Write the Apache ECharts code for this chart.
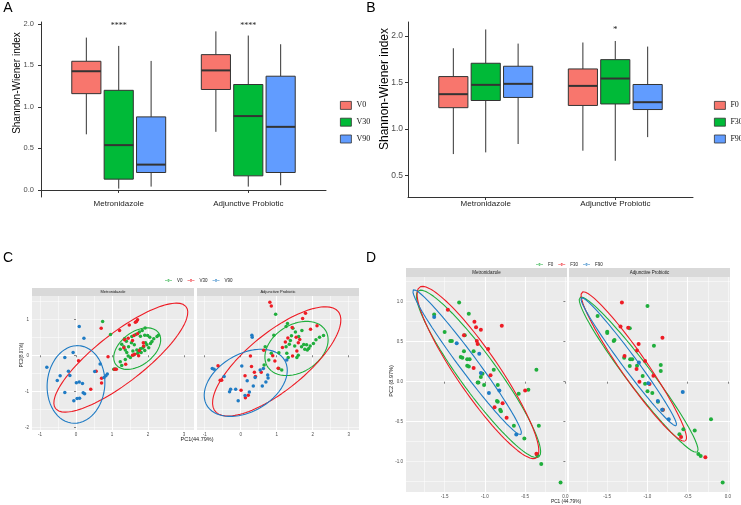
<!DOCTYPE html>
<html>
<head>
<meta charset="utf-8">
<script src="https://cdn.jsdelivr.net/npm/echarts@6/dist/echarts.min.js"></script>
<style>
html, body { margin: 0; padding: 0; background: #fff; }
#main { width: 741px; height: 505px; }
</style>
</head>
<body>
<div id="main"></div>
<script>
var groups = ['Metronidazole', 'Adjunctive Probiotic'];

// boxplots: [group, min, q1, median, q3, max]
var aV0 = [[1, 0.67, 1.16, 1.43, 1.55, 1.835], [2, 0.70, 1.21, 1.44, 1.63, 1.91]];
var aV30 = [[1, 0.016, 0.13, 0.54, 1.20, 1.735], [2, 0.04, 0.17, 0.89, 1.27, 1.86]];
var aV90 = [[1, 0.04, 0.21, 0.305, 0.88, 1.554], [2, 0.056, 0.21, 0.76, 1.37, 1.755]];
var bF0 = [[1, 0.732, 1.23, 1.375, 1.564, 1.868], [2, 0.768, 1.254, 1.464, 1.646, 1.93]];
var bF30 = [[1, 0.75, 1.307, 1.475, 1.707, 2.07], [2, 0.66, 1.27, 1.543, 1.746, 1.946]];
var bF90 = [[1, 0.84, 1.34, 1.486, 1.675, 1.918], [2, 0.914, 1.21, 1.289, 1.479, 1.886]];
var sigA = ['****', '****'];
var sigAPos = [[1, 1.97], [2, 1.97]];
var sigB = ['*'];
var sigBPos = [[2, 2.07]];

// PCA panel C (PC1, PC2)
var cMetV0 = [[0.74,0.94],[0.96,0.58],[1.35,0.46],[1.40,0.39],[1.55,0.52],[1.66,0.58],[1.76,0.65],[1.84,0.69],[1.92,0.76],[1.91,0.56],[2.05,0.50],[2.16,0.46],[2.25,0.52],[2.29,0.56],[1.27,0.31],[1.33,0.24],[1.23,0.17],[1.41,0.08],[1.58,0.12],[1.69,0.15],[1.79,0.18],[1.88,0.24],[1.97,0.29],[2.07,0.33],[2.11,0.38],[1.23,-0.18],[1.27,-0.28],[1.37,-0.12],[1.51,-0.06],[1.60,0.01],[1.71,0.05],[1.81,0.08],[1.91,0.13],[2.02,0.21],[1.93,0.35],[1.09,-0.38],[1.54,0.35],[1.62,0.29],[1.46,0.24],[1.37,0.15],[1.79,0.53],[1.99,0.55],[1.05,-0.39],[1.74,0.10],[1.85,0.20],[1.45,-0.02]];
var cMetV30 = [[0.70,0.75],[1.21,0.69],[1.48,0.84],[1.68,0.94],[1.71,0.99],[1.65,0.92],[0.07,-0.15],[0.41,-0.94],[0.56,-0.44],[0.71,-0.64],[0.71,-0.77],[0.89,-0.04],[1.07,-0.39],[1.12,-0.39],[1.33,0.21],[1.45,0.47],[1.61,0.55],[1.57,0.41],[1.35,0.43],[1.63,0.03],[1.74,-0.01],[1.76,0.13],[1.87,0.35],[1.88,0.26],[1.71,0.60],[1.38,-0.25],[1.57,0.00]];
var cMetV90 = [[-0.81,-0.33],[-0.52,-0.70],[-0.44,-0.57],[-0.31,-0.06],[-0.31,-1.03],[-0.21,-0.44],[-0.17,-0.56],[-0.08,0.08],[0.01,-0.76],[0.09,-0.74],[0.18,-0.78],[-0.06,-1.26],[0.03,-1.20],[0.10,-1.19],[0.20,-1.04],[0.24,-1.07],[0.09,0.80],[0.22,0.47],[0.52,-0.45],[0.67,-0.24],[0.78,-0.62],[0.83,-0.57],[0.87,-0.52]];
var cAdjV0 = [[0.97,1.14],[1.26,0.80],[1.52,0.65],[1.70,0.69],[1.61,0.52],[1.41,0.54],[1.38,0.41],[1.26,0.24],[1.35,0.31],[1.50,0.26],[1.69,0.24],[1.83,0.29],[1.89,0.19],[1.93,0.26],[2.02,0.33],[2.09,0.43],[2.19,0.50],[2.30,0.55],[1.78,0.17],[1.06,0.07],[1.28,0.06],[1.32,-0.06],[1.60,0.00],[1.56,-0.06],[0.85,0.06],[0.68,0.24],[0.92,0.56],[1.06,-0.37],[1.14,-0.41],[0.78,-0.13],[0.65,-0.27],[1.30,0.88],[1.45,0.75],[1.75,0.30],[1.85,0.15]];
var cAdjV30 = [[0.81,1.47],[0.85,1.37],[-0.63,-0.29],[-0.57,-0.69],[-0.53,-0.69],[0.12,-0.57],[0.13,-1.18],[0.21,-1.11],[0.30,-0.31],[0.38,-0.47],[0.57,-0.47],[0.27,-0.02],[0.64,0.14],[0.89,-0.01],[1.04,-0.36],[0.95,-0.16],[1.16,0.22],[1.31,0.48],[1.43,0.77],[1.54,0.50],[1.60,0.35],[1.80,1.17],[1.72,1.02],[1.94,0.72],[2.12,0.82],[1.44,-0.02],[1.56,0.12],[1.64,0.44],[1.24,0.37],[0.41,-0.59],[0.01,-0.97]];
var cAdjV90 = [[-0.79,-0.37],[-0.74,-0.39],[-0.28,-0.94],[-0.31,-1.01],[-0.14,-0.94],[-0.07,-1.26],[0.12,-1.12],[0.24,-1.02],[0.03,-0.30],[0.35,-0.85],[0.60,-0.85],[0.70,-0.74],[0.76,-0.63],[0.54,-0.41],[0.63,-0.37],[0.31,0.56],[0.32,0.50],[-0.46,-0.59],[0.40,-0.62],[0.18,-0.71],[1.28,-0.13],[0.75,-0.55]];

// PCA panel D
var dMetF0 = [[-1.32,0.99],[-1.63,0.84],[-1.20,0.85],[-1.50,0.62],[-1.43,0.51],[-1.41,0.51],[-1.25,0.58],[-1.26,0.38],[-1.30,0.31],[-1.28,0.30],[-1.22,0.28],[-1.19,0.28],[-1.22,0.20],[-1.20,0.19],[-1.14,0.38],[-1.09,-0.01],[-1.08,-0.01],[-1.01,-0.04],[-1.05,0.06],[-1.03,0.10],[-0.89,0.15],[-0.84,-0.04],[-0.85,-0.24],[-0.84,-0.25],[-0.81,-0.35],[-0.80,-0.37],[-0.64,-0.55],[-0.58,-0.15],[-0.46,-0.10],[-0.51,-0.71],[-0.36,0.15],[-0.33,-0.55],[-0.35,-0.92],[-0.30,-1.03],[-0.06,-1.26]];
var dMetF30 = [[-1.46,0.90],[-1.13,0.75],[-1.11,0.68],[-1.05,0.65],[-0.79,0.70],[-1.26,0.58],[-1.10,0.51],[-0.96,0.41],[-1.14,0.17],[-0.93,0.08],[-0.78,-0.27],[-0.88,-0.32],[-0.73,-0.45],[-0.50,-0.11],[-0.36,-0.90],[-1.09,0.47]];
var dMetF90 = [[-1.63,0.81],[-1.35,0.48],[-1.07,0.35],[-1.05,0.11],[-0.95,-0.14],[-0.82,-0.11],[-0.61,-0.66]];
var dAdjF0 = [[-1.00,0.946],[-1.62,0.82],[-1.50,0.625],[-1.50,0.61],[-1.41,0.52],[-1.42,0.51],[-1.22,0.667],[-0.92,0.45],[-1.29,0.30],[-1.215,0.28],[-1.19,0.28],[-1.22,0.196],[-1.13,0.20],[-1.06,0.07],[-1.03,-0.025],[-1.00,-0.12],[-0.94,-0.14],[-0.835,0.21],[-0.835,0.133],[-0.87,-0.25],[-0.81,-0.35],[-0.554,-0.596],[-0.603,-0.658],[-0.413,-0.61],[-0.211,-0.47],[-0.368,-0.904],[-0.339,-0.93],[-0.066,-1.26]];
var dAdjF30 = [[-1.318,0.99],[-1.335,0.69],[-1.24,0.675],[-0.814,0.55],[-1.11,0.47],[-1.13,0.39],[-1.285,0.32],[-1.03,0.26],[-1.136,0.16],[-0.926,0.075],[-1.10,0.0],[-0.975,-0.03],[-0.81,-0.35],[-0.583,-0.69],[-0.281,-0.945]];
var dAdjF90 = [[-0.562,-0.13],[-1.107,0.24],[-0.99,-0.02],[-0.872,-0.24],[-0.818,-0.35],[-0.736,-0.47]];

// 95% ellipses: [cx, cy, semi-major, semi-minor, angle deg]
var ellCMet = [[1.70, 0.185, 0.74, 0.46, 37], [1.245, -0.065, 2.3, 0.68, 38], [0.0, -0.81, 1.08, 0.80, 85]];
var ellCAdj = [[1.55, 0.19, 0.95, 0.66, 32], [1.0, -0.17, 2.2, 0.8, 39], [0.14, -0.765, 1.25, 0.8, 30]];
var ellDMet = [[-1.079, 0.098, 1.28, 0.23, -54.2], [-1.086, 0.115, 1.29, 0.26, -55.8], [-1.22, 0.244, 1.125, 0.11, -53.5]];
var ellDAdj = [[-1.11, 0.0875, 1.21, 0.15, -53], [-1.17, 0.19, 1.13, 0.16, -55.4], [-1.233, 0.25, 0.995, 0.09, -53.6]];

var boxColors = ['#F8766D', '#00BA38', '#619CFF'];
var pcaColors = ['#1fae3c', '#ee1c25', '#1f7bc4'];
var boxWidth = 0.225;
var boxOffsets = [-0.25, 0, 0.25];
var sans = 'Liberation Sans';

var chart = echarts.init(document.getElementById('main'), null, { renderer: 'canvas' });

function boxRenderer(offset, fill) {
    return function (params, api) {
        var x = api.value(0) + offset;
        var lo = api.coord([x, api.value(1)]);
        var q1 = api.coord([x, api.value(2)]);
        var md = api.coord([x, api.value(3)]);
        var q3 = api.coord([x, api.value(4)]);
        var hi = api.coord([x, api.value(5)]);
        var w = api.size([boxWidth, 0])[0];
        var dark = '#333';
        return {
            type: 'group',
            children: [
                { type: 'line', shape: { x1: hi[0], y1: hi[1], x2: q3[0], y2: q3[1] }, style: { stroke: dark, lineWidth: 1 } },
                { type: 'line', shape: { x1: q1[0], y1: q1[1], x2: lo[0], y2: lo[1] }, style: { stroke: dark, lineWidth: 1 } },
                { type: 'rect', shape: { x: q3[0] - w / 2, y: q3[1], width: w, height: q1[1] - q3[1] }, style: { fill: fill, stroke: dark, lineWidth: 1 } },
                { type: 'line', shape: { x1: md[0] - w / 2, y1: md[1], x2: md[0] + w / 2, y2: md[1] }, style: { stroke: dark, lineWidth: 2 } }
            ]
        };
    };
}

function textRenderer(texts, size) {
    return function (params, api) {
        var p = api.coord([api.value(0), api.value(1)]);
        return {
            type: 'text', x: p[0], y: p[1],
            style: { text: texts[params.dataIndex], align: 'center', verticalAlign: 'middle', font: size + 'px Liberation Serif', fill: '#222' }
        };
    };
}

function ellipse(e) {
    var pts = [];
    var th = e[4] * Math.PI / 180;
    for (var i = 0; i <= 120; i++) {
        var t = i / 120 * 2 * Math.PI;
        var u = e[2] * Math.cos(t), v = e[3] * Math.sin(t);
        pts.push([e[0] + u * Math.cos(th) - v * Math.sin(th), e[1] + u * Math.sin(th) + v * Math.cos(th)]);
    }
    return pts;
}

var grids = [
    { left: 41, top: 22, width: 285, height: 175, outerBoundsMode: 'none' },
    { left: 408, top: 22, width: 285, height: 175, outerBoundsMode: 'none' }
];
var facetBoxes = [[32, 296, 162, 134], [197, 296, 162, 134], [406, 277, 161, 215], [569, 277, 161, 215]];
facetBoxes.forEach(function (b) {
    grids.push({ left: b[0], top: b[1], width: b[2], height: b[3], show: true, backgroundColor: '#ebebeb', borderWidth: 0, outerBoundsMode: 'none' });
});

var xAxes = [], yAxes = [];

function boxAxes(gi, yMin, yMax, yTicks, tickSize, yMargin) {
    xAxes.push({
        gridIndex: gi, type: 'value', min: 0.4, max: 2.6,
        splitLine: { show: false },
        axisLine: { show: true, lineStyle: { color: '#333', width: 1 } },
        axisTick: { show: true, length: 3, customValues: [1, 2], lineStyle: { color: '#333' } },
        axisLabel: {
            customValues: [1, 2], fontSize: 8, fontFamily: sans, color: '#222', margin: 3,
            formatter: function (v) { return groups[Math.round(v) - 1]; }
        }
    });
    yAxes.push({
        gridIndex: gi, type: 'value', min: yMin, max: yMax,
        splitLine: { show: false },
        axisLine: { show: true, lineStyle: { color: '#333', width: 1 } },
        axisTick: { show: true, length: 3, customValues: yTicks, lineStyle: { color: '#333' } },
        axisLabel: {
            customValues: yTicks, fontSize: tickSize, fontFamily: sans, color: '#4d4d4d', margin: yMargin,
            formatter: function (v) { return v.toFixed(1); }
        }
    });
}

function facetAxes(gi, xr, yr, xStep, yStep, xTicks, yTicks, showY, digits) {
    var fmt = function (v) { return digits ? v.toFixed(digits) : String(v); };
    var major = { show: true, showMinLine: false, showMaxLine: false, lineStyle: { color: '#fff', width: 1 } };
    var minor = { show: true, showMinLine: false, showMaxLine: false, lineStyle: { color: '#fff', width: 0.5 } };
    xAxes.push({
        gridIndex: gi, type: 'value', min: xr[0], max: xr[1], minInterval: xStep, maxInterval: xStep,
        splitLine: major, axisLine: { show: false },
        axisTick: { show: true, length: 2, customValues: xTicks, lineStyle: { color: '#333', width: 0.6 } },
        axisLabel: { customValues: xTicks, fontSize: 4.5, fontFamily: sans, color: '#4d4d4d', margin: 2, formatter: fmt }
    });
    xAxes.push({
        gridIndex: gi, type: 'value', min: xr[0], max: xr[1], minInterval: xStep / 2, maxInterval: xStep / 2,
        splitLine: minor, axisLine: { show: false }, axisTick: { show: false }, axisLabel: { show: false }
    });
    yAxes.push({
        gridIndex: gi, type: 'value', min: yr[0], max: yr[1], minInterval: yStep, maxInterval: yStep,
        splitLine: major, axisLine: { show: false },
        axisTick: { show: showY, length: 2, customValues: yTicks, lineStyle: { color: '#333', width: 0.6 } },
        axisLabel: { show: showY, customValues: yTicks, fontSize: 4.5, fontFamily: sans, color: '#4d4d4d', margin: 3, formatter: fmt }
    });
    yAxes.push({
        gridIndex: gi, type: 'value', min: yr[0], max: yr[1], minInterval: yStep / 2, maxInterval: yStep / 2,
        splitLine: minor, axisLine: { show: false }, axisTick: { show: false }, axisLabel: { show: false }
    });
}

boxAxes(0, -0.085, 2.023, [0, 0.5, 1, 1.5, 2], 7.5, 7);
boxAxes(1, 0.271, 2.150, [0.5, 1, 1.5, 2], 8.5, 5);
facetAxes(2, [-1.222, 3.278], [-2.075, 1.647], 1, 1, [-1, 0, 1, 2, 3], [-2, -1, 0, 1], true, 0);
facetAxes(3, [-1.214, 3.286], [-2.075, 1.647], 1, 1, [-1, 0, 1, 2, 3], [-2, -1, 0, 1], false, 0);
facetAxes(4, [-1.98, 0.02], [-1.379, 1.309], 0.5, 0.5, [-1.5, -1, -0.5, 0], [-1, -0.5, 0, 0.5, 1], true, 1);
facetAxes(5, [-1.975, 0.025], [-1.379, 1.309], 0.5, 0.5, [-1.5, -1, -0.5, 0], [-1, -0.5, 0, 0.5, 1], false, 1);

var series = [];
[[aV0, 'V0'], [aV30, 'V30'], [aV90, 'V90']].forEach(function (s, i) {
    series.push({ type: 'custom', name: s[1], xAxisIndex: 0, yAxisIndex: 0, data: s[0], itemStyle: { color: boxColors[i] },
        encode: { x: 0, y: [1, 2, 3, 4, 5] }, renderItem: boxRenderer(boxOffsets[i], boxColors[i]) });
});
[[bF0, 'F0'], [bF30, 'F30'], [bF90, 'F90']].forEach(function (s, i) {
    series.push({ type: 'custom', name: s[1], xAxisIndex: 1, yAxisIndex: 1, data: s[0], itemStyle: { color: boxColors[i] },
        encode: { x: 0, y: [1, 2, 3, 4, 5] }, renderItem: boxRenderer(boxOffsets[i], boxColors[i]) });
});
series.push({ type: 'custom', xAxisIndex: 0, yAxisIndex: 0, data: sigAPos, renderItem: textRenderer(sigA, 8), silent: true });
series.push({ type: 'custom', xAxisIndex: 1, yAxisIndex: 1, data: sigBPos, renderItem: textRenderer(sigB, 9), silent: true });

function facetSeries(axisIdx, sets, names, ells, size) {
    sets.forEach(function (d, i) {
        series.push({ type: 'scatter', name: names[i], xAxisIndex: axisIdx, yAxisIndex: axisIdx, data: d,
            symbolSize: size, itemStyle: { color: pcaColors[i], opacity: 1 }, silent: true });
    });
    ells.forEach(function (e, i) {
        series.push({ type: 'line', xAxisIndex: axisIdx, yAxisIndex: axisIdx, data: ellipse(e), symbol: 'none',
            lineStyle: { color: pcaColors[i], width: 1.1 }, silent: true, z: 1 });
    });
}
facetSeries(2, [cMetV0, cMetV30, cMetV90], ['V0', 'V30', 'V90'], ellCMet, 3.5);
facetSeries(4, [cAdjV0, cAdjV30, cAdjV90], ['V0', 'V30', 'V90'], ellCAdj, 3.5);
facetSeries(6, [dMetF0, dMetF30, dMetF90], ['F0', 'F30', 'F90'], ellDMet, 4);
facetSeries(8, [dAdjF0, dAdjF30, dAdjF90], ['F0', 'F30', 'F90'], ellDAdj, 4);

var keyIcon = 'path://M0,9 L24,9 L24,11 L0,11 Z M8,10 a4,4 0 1,0 8,0 a4,4 0 1,0 -8,0 Z';
function boxLegend(left, names) {
    return {
        orient: 'vertical', left: left, top: 96, itemWidth: 11, itemHeight: 8, itemGap: 8, icon: 'rect',
        selectedMode: false, textStyle: { fontFamily: 'Liberation Serif', fontSize: 8, color: '#111' },
        data: names.map(function (n, i) { return { name: n, itemStyle: { color: boxColors[i], borderColor: '#333', borderWidth: 0.8 } }; })
    };
}
function pcaLegend(left, top, names) {
    return {
        orient: 'horizontal', left: left, top: top, itemWidth: 7, itemHeight: 4, itemGap: 5, icon: keyIcon,
        selectedMode: false, textStyle: { fontFamily: sans, fontSize: 4.5, color: '#222' },
        data: names.map(function (n, i) { return { name: n, itemStyle: { color: pcaColors[i] } }; })
    };
}

var graphics = [];
function label(text, x, y, size, rot, color) {
    graphics.push({ type: 'text', x: x, y: y, rotation: rot || 0,
        style: { text: text, align: 'center', verticalAlign: 'middle', font: size + 'px ' + sans, fill: color || '#000' } });
}
label('A', 8, 8, 14);
label('B', 371, 8, 14);
label('C', 8, 258, 14);
label('D', 371, 258, 14);
label('Shannon-Wiener index', 17, 83, 10, Math.PI / 2);
label('Shannon-Wiener index', 385, 89, 12, Math.PI / 2);
label('PC2(8.97%)', 22, 355, 4.5, Math.PI / 2, '#222');
label('PC1(44.79%)', 197, 439, 5.5, 0, '#222');
label('PC2 (8.97%)', 391, 381, 5.5, Math.PI / 2, '#222');
label('PC1 (44.79%)', 566, 502, 4.8, 0, '#222');
var strips = [[32, 288, 162, 8, 0], [197, 288, 162, 8, 1], [406, 268, 161, 9, 0], [569, 268, 161, 9, 1]];
strips.forEach(function (s) {
    graphics.push({ type: 'rect', shape: { x: s[0], y: s[1], width: s[2], height: s[3] }, style: { fill: '#d9d9d9' }, z: -1 });
    label(groups[s[4]], s[0] + s[2] / 2, s[1] + s[3] / 2, s[3] > 8 ? 4.5 : 4, 0, '#1a1a1a');
});

chart.setOption({
    animation: false,
    backgroundColor: '#fff',
    grid: grids,
    xAxis: xAxes,
    yAxis: yAxes,
    legend: [boxLegend(335, ['V0', 'V30', 'V90']), boxLegend(709, ['F0', 'F30', 'F90']),
        pcaLegend(160, 273, ['V0', 'V30', 'V90']), pcaLegend(531, 257, ['F0', 'F30', 'F90'])],
    graphic: graphics,
    series: series
});
</script>
</body>
</html>
